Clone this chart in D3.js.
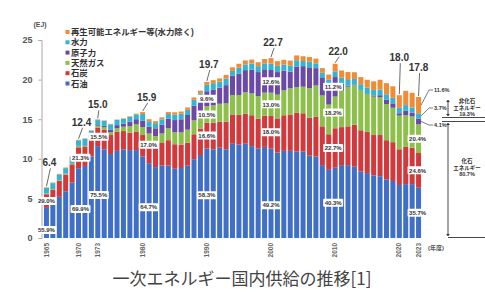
<!DOCTYPE html>
<html><head><meta charset="utf-8">
<script src="https://cdn.jsdelivr.net/npm/d3@7"></script>
<style>
html,body{margin:0;padding:0;background:#fff;}
svg{display:block;}
</style></head>
<body>
<svg id="c" width="485" height="289"></svg>
<script>
// ---- data (EJ) ----
const years = [1965,1966,1967,1968,1969,1970,1971,1972,1973,1974,1975,1976,1977,1978,1979,1980,1981,1982,1983,1984,1985,1986,1987,1988,1989,1990,1991,1992,1993,1994,1995,1996,1997,1998,1999,2000,2001,2002,2003,2004,2005,2006,2007,2008,2009,2010,2011,2012,2013,2014,2015,2016,2017,2018,2019,2020,2021,2022,2023];
const oil = [3.80,4.40,5.20,5.90,7.00,8.81,9.10,10.30,11.60,11.20,
  10.60,11.00,11.20,11.10,11.10,10.30,9.45,8.95,9.15,9.15,
  8.74,8.84,9.13,9.95,10.48,11.30,11.20,11.40,11.20,11.90,
  11.80,11.90,11.60,11.30,11.50,11.30,10.80,11.00,11.00,10.90,
  10.90,10.40,10.30,9.20,8.60,8.87,9.20,9.20,9.00,8.40,
  8.20,7.90,7.80,7.40,7.20,6.70,6.80,6.80,6.35];
const coal = [1.73,1.70,2.00,2.10,2.30,2.64,2.40,2.30,2.35,2.50,
  2.40,2.40,2.30,2.20,2.35,2.70,2.75,2.85,2.85,3.20,
  3.10,2.95,2.90,3.15,3.30,3.27,3.35,3.30,3.50,3.70,
  3.75,3.80,3.90,3.75,3.95,4.10,4.30,4.50,4.60,4.90,
  4.85,4.80,5.00,4.90,4.50,4.99,4.80,4.90,5.30,5.20,
  5.20,5.10,5.20,4.95,4.90,4.50,4.70,4.60,4.38];
const gas = [0.08,0.08,0.09,0.10,0.12,0.15,0.15,0.17,0.23,0.30,
  0.35,0.45,0.55,0.80,0.90,1.00,1.00,1.05,1.20,1.50,
  1.50,1.55,1.65,1.75,1.90,2.07,2.20,2.25,2.30,2.45,
  2.50,2.70,2.75,2.85,2.90,2.95,3.00,3.15,3.30,3.25,
  3.35,3.70,3.95,3.90,3.75,4.00,4.60,5.00,5.00,5.10,
  4.80,4.85,4.75,4.55,4.35,4.25,4.00,3.95,3.63];
const nuclear = [0,0.01,0.01,0.02,0.03,0.04,0.07,0.08,0.09,0.18,
  0.35,0.40,0.40,0.60,0.65,0.80,0.85,1.00,1.10,1.20,
  1.55,1.65,1.85,1.85,1.85,1.89,2.00,2.05,2.30,2.45,
  2.70,2.80,3.00,3.05,2.95,2.86,2.85,2.50,2.10,2.60,
  2.60,2.65,2.20,2.20,2.45,2.46,0.90,0.15,0.08,0,
  0.08,0.15,0.28,0.55,0.55,0.30,0.60,0.47,0.73];
const hydro = [0.72,0.74,0.72,0.70,0.77,0.70,0.80,0.70,0.62,0.60,
  0.65,0.65,0.60,0.60,0.62,0.85,0.70,0.65,0.68,0.60,
  0.70,0.70,0.65,0.75,0.75,0.80,0.80,0.75,0.85,0.60,
  0.75,0.72,0.78,0.75,0.75,0.80,0.78,0.75,0.80,0.80,
  0.65,0.70,0.60,0.65,0.68,0.72,0.75,0.70,0.70,0.72,
  0.70,0.68,0.70,0.70,0.70,0.68,0.68,0.66,0.66];
const renew = [0.07,0.07,0.08,0.08,0.08,0.06,0.06,0.06,0.08,0.06,
  0.06,0.06,0.06,0.07,0.08,0.25,0.25,0.25,0.25,0.25,
  0.28,0.28,0.30,0.30,0.32,0.37,0.38,0.40,0.45,0.45,
  0.50,0.50,0.50,0.50,0.55,0.70,0.60,0.60,0.60,0.60,
  0.60,0.60,0.60,0.60,0.65,0.96,0.90,1.00,0.85,0.90,
  1.00,1.10,1.25,1.40,1.45,1.60,1.80,1.85,2.05];

const seriesKeys  = ["oil","coal","gas","nuclear","hydro","renew"];
const seriesNames = ["石油","石炭","天然ガス","原子力","水力","再生可能エネルギー等(水力除く)"];
const seriesColors = ["#3f6fc6","#d2393c","#8dc04a","#6a4aa6","#35b3d2","#f28b36"];
const yTicks = [0,5,10,15,20,25];
const xTickYears = [1965,1970,1973,1980,1990,2000,2010,2020,2023];

const totalLabels = [
  {year:1965,text:"6.4",dx:3,dy:-24},
  {year:1970,text:"12.4",dx:3,dy:-17},
  {year:1973,text:"15.0",dx:0,dy:-14},
  {year:1980,text:"15.9",dx:4,dy:-14},
  {year:1990,text:"19.7",dx:2,dy:-17},
  {year:2000,text:"22.7",dx:2,dy:-15},
  {year:2010,text:"22.0",dx:3,dy:-12},
  {year:2020,text:"18.0",dx:0,dy:-37},
  {year:2023,text:"17.8",dx:0,dy:-29}
];
const shareLabels = [
  {year:1965,key:"coal",text:"29.0%",dx:0,dy:0},
  {year:1965,key:"oil",text:"55.9%",dx:0,dy:7},
  {year:1970,key:"coal",text:"21.3%",dx:2,dy:0},
  {year:1970,key:"oil",text:"69.9%",dx:2,dy:6},
  {year:1973,key:"coal",text:"15.5%",dx:1,dy:0},
  {year:1973,key:"oil",text:"75.5%",dx:1,dy:3},
  {year:1980,key:"coal",text:"17.0%",dx:6,dy:-1},
  {year:1980,key:"oil",text:"64.7%",dx:6,dy:10},
  {year:1990,key:"nuclear",text:"9.6%",dx:0,dy:0},
  {year:1990,key:"gas",text:"10.5%",dx:0,dy:0},
  {year:1990,key:"coal",text:"16.6%",dx:0,dy:0},
  {year:1990,key:"oil",text:"58.3%",dx:0,dy:2},
  {year:2000,key:"nuclear",text:"12.6%",dx:0,dy:0},
  {year:2000,key:"gas",text:"13.0%",dx:0,dy:0},
  {year:2000,key:"coal",text:"18.0%",dx:0,dy:0},
  {year:2000,key:"oil",text:"49.2%",dx:0,dy:12},
  {year:2010,key:"nuclear",text:"11.2%",dx:-2,dy:0},
  {year:2010,key:"gas",text:"18.2%",dx:-2,dy:0},
  {year:2010,key:"coal",text:"22.7%",dx:-2,dy:0},
  {year:2010,key:"oil",text:"40.3%",dx:-2,dy:0},
  {year:2023,key:"gas",text:"20.4%",dx:-1,dy:0},
  {year:2023,key:"coal",text:"24.6%",dx:-1,dy:0},
  {year:2023,key:"oil",text:"35.7%",dx:-1,dy:0}
];
const sideLabels = [
  {year:2023,key:"renew",text:"11.6%",ly:90},
  {year:2023,key:"hydro",text:"3.7%",ly:108},
  {year:2023,key:"nuclear",text:"4.1%",ly:125}
];

// ---- build table ----
const cols = {oil,coal,gas,nuclear,hydro,renew};
const table = years.map((yr,i)=>{
  const r = {year:yr};
  seriesKeys.forEach(k=> r[k]=cols[k][i]);
  return r;
});
const stacked = d3.stack().keys(seriesKeys)(table);
const segOf = (key, year) => {
  const s = stacked[seriesKeys.indexOf(key)];
  return s[years.indexOf(year)];
};

const svg = d3.select("#c");
const x = d3.scaleBand().domain(years).range([43.3,421.7]).paddingInner(0.22).paddingOuter(0.1);
const y = d3.scaleLinear().domain([0,25]).range([238,40]);
const color = d3.scaleOrdinal().domain(seriesKeys).range(seriesColors);
const num = "'Liberation Sans','DejaVu Sans',sans-serif";
const jp = "'Noto Sans CJK JP','Noto Sans',sans-serif";
const jpCompact = "'Liberation Sans','Noto Sans CJK JP',sans-serif";

// bars
svg.append("g").selectAll("g").data(stacked).join("g")
  .attr("fill", d=>color(d.key))
  .selectAll("rect").data(d=>d).join("rect")
  .attr("x", d=>x(d.data.year))
  .attr("width", x.bandwidth())
  .attr("y", d=>y(d[1]))
  .attr("height", d=>Math.max(0, y(d[0])-y(d[1])));

// y axis
const yAxis = d3.axisLeft(y).tickValues(yTicks).tickSize(3).tickPadding(6);
const ga = svg.append("g").attr("transform","translate(41.5,0)").call(yAxis);
ga.select(".domain").attr("stroke","#aaa");
ga.selectAll(".tick line").attr("stroke","#aaa");
ga.selectAll(".tick text").attr("fill","#555").attr("font-size","9px")
  .attr("font-weight","bold").attr("font-family",num);
svg.append("text").attr("x",40).attr("y",27).attr("text-anchor","middle")
  .attr("font-size","7px").attr("font-weight","bold").attr("fill","#555")
  .attr("font-family",num).text("(EJ)");

// x axis labels
const gx = svg.append("g").attr("transform","translate(0,238)")
  .call(d3.axisBottom(x).tickValues(xTickYears).tickSize(0).tickPadding(0));
gx.select(".domain").remove();
gx.selectAll(".tick text")
  .attr("transform","translate(0,5) rotate(-90)")
  .attr("text-anchor","end").attr("dy","0.32em").attr("x",0).attr("y",0)
  .attr("fill","#666").attr("font-size","6.5px").attr("font-weight","bold")
  .attr("font-family",num);
svg.append("text").attr("x",428).attr("y",250).attr("font-size","6px")
  .attr("font-weight","bold").attr("fill","#555").attr("font-family",jpCompact).text("(年度)");

// legend
const legendOrder = ["renew","hydro","nuclear","gas","coal","oil"];
const lg = svg.append("g");
legendOrder.forEach((k,i)=>{
  const yy = 32 + i*10.3;
  lg.append("rect").attr("x",65.5).attr("y",yy-2).attr("width",4).attr("height",4).attr("fill",color(k));
  lg.append("text").attr("x",71).attr("y",yy+3).attr("font-size","8.4px").attr("font-weight","bold")
    .attr("fill","#333").attr("font-family",jpCompact).text(seriesNames[seriesKeys.indexOf(k)]);
});

// total labels
const totals = years.map((yr,i)=>d3.sum(seriesKeys,k=>cols[k][i]));
const tl = svg.append("g");
totalLabels.forEach(t=>{
  const i = years.indexOf(t.year);
  const cx = x(t.year)+x.bandwidth()/2;
  const top = y(totals[i]);
  const tx = cx + t.dx, ty = top + t.dy;
  tl.append("line").attr("x1",tx+1).attr("y1",ty+5).attr("x2",cx).attr("y2",top-1)
    .attr("stroke","#444").attr("stroke-width",0.8);
  tl.append("text").attr("x",tx).attr("y",ty+3).attr("text-anchor","middle")
    .attr("font-size","10px").attr("font-weight","bold").attr("fill","#333")
    .attr("font-family",num).text(t.text);
});

// share labels in boxes
const sl = svg.append("g");
shareLabels.forEach(s=>{
  const seg = segOf(s.key,s.year);
  const cx = x(s.year)+x.bandwidth()/2 + s.dx;
  const cy = y((seg[0]+seg[1])/2) + s.dy;
  sl.append("rect").attr("x",cx-10).attr("y",cy-4).attr("width",20).attr("height",8)
    .attr("rx",1).attr("fill","#fff");
  sl.append("text").attr("x",cx).attr("y",cy+2.2).attr("text-anchor","middle")
    .attr("font-size","6px").attr("font-weight","bold").attr("fill","#333")
    .attr("font-family",num).text(s.text);
});
sideLabels.forEach(s=>{
  const seg = segOf(s.key,s.year);
  const ex = x(s.year)+x.bandwidth();
  const ey = y((seg[0]+seg[1])/2);
  sl.append("polyline").attr("points",`${ex},${ey} ${ex+8},${s.ly} ${ex+12},${s.ly}`)
    .attr("fill","none").attr("stroke","#444").attr("stroke-width",0.7);
  sl.append("text").attr("x",ex+13).attr("y",s.ly+2).attr("font-size","5.5px")
    .attr("font-weight","bold").attr("fill","#333").attr("font-family",num).text(s.text);
});

// right brackets
const br = svg.append("g").attr("stroke","#333").attr("stroke-width",0.9).attr("fill","none");
const arrow = (xx,yy,dir)=> svg.append("path")
  .attr("d",`M${xx-2},${yy-2*dir} L${xx},${yy} L${xx+2},${yy-2*dir} Z`).attr("fill","#333");
br.append("line").attr("x1",448).attr("x2",448).attr("y1",100).attr("y2",116);
arrow(448,100,-1); arrow(448,116,1);
br.append("line").attr("x1",442).attr("x2",485).attr("y1",117.5).attr("y2",117.5);
br.append("line").attr("x1",442).attr("x2",485).attr("y1",121.5).attr("y2",121.5);
br.append("line").attr("x1",448).attr("x2",448).attr("y1",123).attr("y2",236);
arrow(448,123,-1); arrow(448,236,1);
br.append("line").attr("x1",448).attr("x2",485).attr("y1",237.5).attr("y2",237.5);
const bt = svg.append("g").attr("font-size","5.5px").attr("font-weight","bold")
  .attr("fill","#333").attr("font-family",jpCompact).attr("text-anchor","middle");
[["非化石",103],["エネルギー",109.5],["19.3%",116]].forEach(([t,yy])=>
  bt.append("text").attr("x",467).attr("y",yy).text(t));
[["化石",163],["エネルギー",169.5],["80.7%",176]].forEach(([t,yy])=>
  bt.append("text").attr("x",467).attr("y",yy).text(t));

// title
svg.append("text").attr("x",242).attr("y",285).attr("text-anchor","middle")
  .attr("font-size","17px").attr("fill","#444").attr("font-family",jp)
  .text("一次エネルギー国内供給の推移[1]");
</script>
</body></html>
